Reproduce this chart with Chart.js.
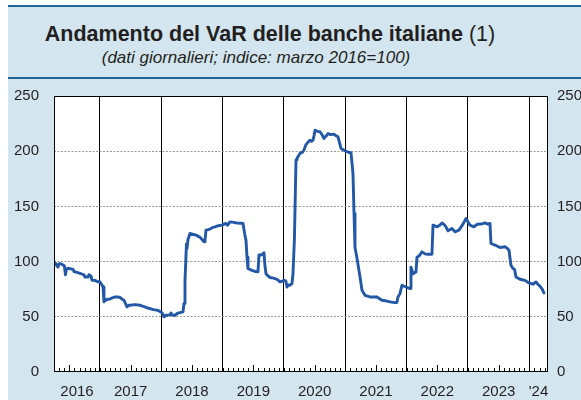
<!DOCTYPE html>
<html><head><meta charset="utf-8">
<script src="https://cdn.jsdelivr.net/npm/chart.js@4"></script>
<style>
html,body{margin:0;padding:0;background:#fff;width:581px;height:400px;overflow:hidden;font-family:"Liberation Sans",Arial,Helvetica,sans-serif;}
#panel{position:absolute;left:8px;top:5px;width:573px;height:395px;background:#d3e5ef;border-top:2px solid #1e6794;}
#rule{position:absolute;left:8px;top:77px;width:573px;height:2px;background:#1e6794;}
.t{position:absolute;white-space:nowrap;color:#231f20;transform:translateX(-50%);}
#title{left:270px;top:23.5px;font-size:21.5px;line-height:21.5px;font-weight:bold;}
#title span{font-weight:normal;}
#sub{left:256px;top:48.6px;font-size:17px;line-height:17px;font-style:italic;}
canvas{position:absolute;left:0;top:0;}
</style></head><body>
<div id="panel"></div><div id="rule"></div>
<div class="t" id="title">Andamento del VaR delle banche italiane<span> (1)</span></div>
<div class="t" id="sub">(dati giornalieri; indice: marzo 2016=100)</div>
<canvas id="c" width="581" height="400"></canvas>
<script>
const dates=[2016.250,2016.282,2016.299,2016.315,2016.332,2016.364,2016.397,2016.420,2016.437,2016.452,2016.478,2016.560,2016.577,2016.609,2016.690,2016.739,2016.755,2016.804,2016.820,2016.853,2016.870,2016.918,2016.950,2017.000,2017.030,2017.049,2017.065,2017.082,2017.098,2017.130,2017.163,2017.190,2017.245,2017.290,2017.326,2017.360,2017.391,2017.424,2017.440,2017.470,2017.489,2017.570,2017.652,2017.700,2017.734,2017.770,2017.815,2017.870,2017.929,2017.995,2018.020,2018.044,2018.076,2018.109,2018.140,2018.158,2018.175,2018.223,2018.260,2018.304,2018.353,2018.370,2018.386,2018.402,2018.410,2018.419,2018.435,2018.467,2018.565,2018.631,2018.696,2018.712,2018.728,2018.770,2018.810,2018.840,2018.875,2018.930,2018.989,2019.054,2019.080,2019.120,2019.180,2019.234,2019.300,2019.332,2019.360,2019.381,2019.397,2019.413,2019.478,2019.540,2019.576,2019.592,2019.630,2019.674,2019.690,2019.707,2019.740,2019.772,2019.830,2019.886,2019.935,2019.960,2020.000,2020.030,2020.049,2020.070,2020.098,2020.130,2020.147,2020.170,2020.196,2020.212,2020.240,2020.261,2020.300,2020.326,2020.359,2020.390,2020.424,2020.450,2020.473,2020.490,2020.506,2020.550,2020.587,2020.620,2020.652,2020.690,2020.718,2020.760,2020.815,2020.850,2020.881,2020.930,2020.995,2021.050,2021.093,2021.125,2021.142,2021.158,2021.191,2021.240,2021.272,2021.321,2021.402,2021.516,2021.598,2021.660,2021.728,2021.810,2021.840,2021.859,2021.891,2021.924,2021.989,2022.055,2022.071,2022.104,2022.152,2022.169,2022.200,2022.250,2022.300,2022.348,2022.413,2022.430,2022.495,2022.540,2022.576,2022.620,2022.641,2022.674,2022.710,2022.739,2022.788,2022.853,2022.919,2022.968,2023.000,2023.033,2023.098,2023.130,2023.163,2023.220,2023.277,2023.320,2023.359,2023.375,2023.440,2023.522,2023.603,2023.640,2023.669,2023.701,2023.734,2023.760,2023.783,2023.848,2023.929,2023.995,2024.060,2024.109,2024.140,2024.174,2024.210,2024.239];
const varIndex=[100,98,96,95,98,98,97,96,88,93,94,93,91,90.5,89,88,86,86,88,87,83,83,82,81.5,79,77,63.5,66,65,66,66,67,68,68,67.5,66,65,61,59,60.5,60.5,61,60.5,59.5,59,58,57.5,56.5,56,54.4,53,50,51.5,51.4,52,53.5,51.5,51.4,53,53.8,54.4,62,83,105,116,112,120,125.5,124,122,118,119,128.5,129,130,131,131.5,132.5,133,134.6,133,136,135.5,135,134.8,134.6,125,119,104,93.7,92,91,90.7,106,106,108,96,89,87,85.6,85,84,81.6,82,83,82.5,77,79,78.6,80,89,120,192,193.5,196,198,199,201,206,208,210,209,210,214,219,218,217.6,215,211.6,214,216,215,215.5,214,213,202.5,200.4,199,198.6,180,143.6,113,102.8,86,74,69.5,68,68,65,64.5,63.5,62.8,63,68,71,78.6,77,75.6,95,89,90.5,104,105,108.8,107,106.7,106.7,133,131.5,133,135,133,131.5,127.9,129,130,127,128.5,133.9,139,136,133,131.5,133,133.9,134,135,134,134.6,116.4,115,112.8,113.5,112,110.3,96.7,93.8,93,86,84,83,80.7,79.5,81.6,79.5,77.7,75,71.7];
const yearLabels=['2016','2017','2018','2019','2020','2021','2022','2023',"'24"];
const labelPositions=[2016.625,2017.5,2018.5,2019.5,2020.5,2021.5,2022.5,2023.5,2024.15];
const yearBoundaries=[2017,2018,2019,2020,2021,2022,2023,2024];
const yTicks=[0,50,100,150,200,250];
const xMin=2016.25, xMax=2024.305;

const FONT='"Liberation Sans", Arial, Helvetica, sans-serif';
const xTickValues=[...labelPositions,...yearBoundaries].sort((a,b)=>a-b);

const areaPlugin={id:'area',
  beforeDraw(chart){const {ctx,chartArea:a}=chart;ctx.save();ctx.fillStyle='#fff';ctx.fillRect(a.left,a.top,a.right-a.left,a.bottom-a.top);ctx.restore();},
  afterDraw(chart){
    const {ctx,chartArea:a}=chart;const xs=chart.scales.x;
    ctx.save();ctx.strokeStyle='#000';ctx.lineWidth=1;
    for(let y=2016;y<=2024;y++){for(let m=0;m<12;m++){
      const v=y+m/12; if(v<=xMin+0.001||v>=xMax) continue;
      const px=Math.round(xs.getPixelForValue(v))+0.5;
      const len=(m===6)?7:4;
      ctx.beginPath();ctx.moveTo(px,a.bottom);ctx.lineTo(px,a.bottom-len);ctx.stroke();
    }}
    ctx.strokeRect(Math.round(a.left)+0.5,Math.round(a.top)+0.5,Math.round(a.right-a.left)-1,Math.round(a.bottom-a.top)-1);
    ctx.restore();
  }};

new Chart(document.getElementById('c'),{
  type:'line',
  data:{datasets:[{data:dates.map((d,i)=>({x:d,y:varIndex[i]})),borderColor:'#2358a6',borderWidth:2.9,pointRadius:0,tension:0,fill:false,borderJoinStyle:'round',borderCapStyle:'round'}]},
  options:{responsive:false,animation:false,
    layout:{padding:{top:96,left:0,right:0,bottom:0}},
    plugins:{legend:{display:false},tooltip:{enabled:false},title:{display:false}},
    scales:{
      x:{type:'linear',min:xMin,max:xMax,
        afterBuildTicks(s){s.ticks=xTickValues.map(v=>({value:v}));},
        afterFit(s){s.height=28;},
        grid:{color:c=>(c.tick&&Number.isInteger(c.tick.value))?'#000':'rgba(0,0,0,0)',drawTicks:false,lineWidth:1},
        border:{display:false},
        ticks:{autoSkip:false,maxRotation:0,padding:11,color:'#231f20',font:{size:15,family:FONT},
          callback:(v)=>{const i=labelPositions.indexOf(v);return i>=0?yearLabels[i]:'';}}
      },
      y:{position:'left',min:0,max:250,
        afterBuildTicks(s){s.ticks=yTicks.map(v=>({value:v}));},
        afterFit(s){s.width=54;},
        grid:{color:c=>(c.tick&&(c.tick.value===0||c.tick.value===250))?'rgba(0,0,0,0)':'#9a9a9a',drawTicks:false,lineWidth:1},
        border:{display:false,dash:[2,1.5]},
        ticks:{padding:15,color:'#231f20',font:{size:15,family:FONT}}
      },
      y2:{position:'right',min:0,max:250,
        afterBuildTicks(s){s.ticks=yTicks.map(v=>({value:v}));},
        afterFit(s){s.width=33;},
        grid:{display:false,drawTicks:false},
        border:{display:false},
        ticks:{padding:9,color:'#231f20',font:{size:15,family:FONT}}
      }
    }
  },
  plugins:[areaPlugin]
});
</script>
</body></html>
